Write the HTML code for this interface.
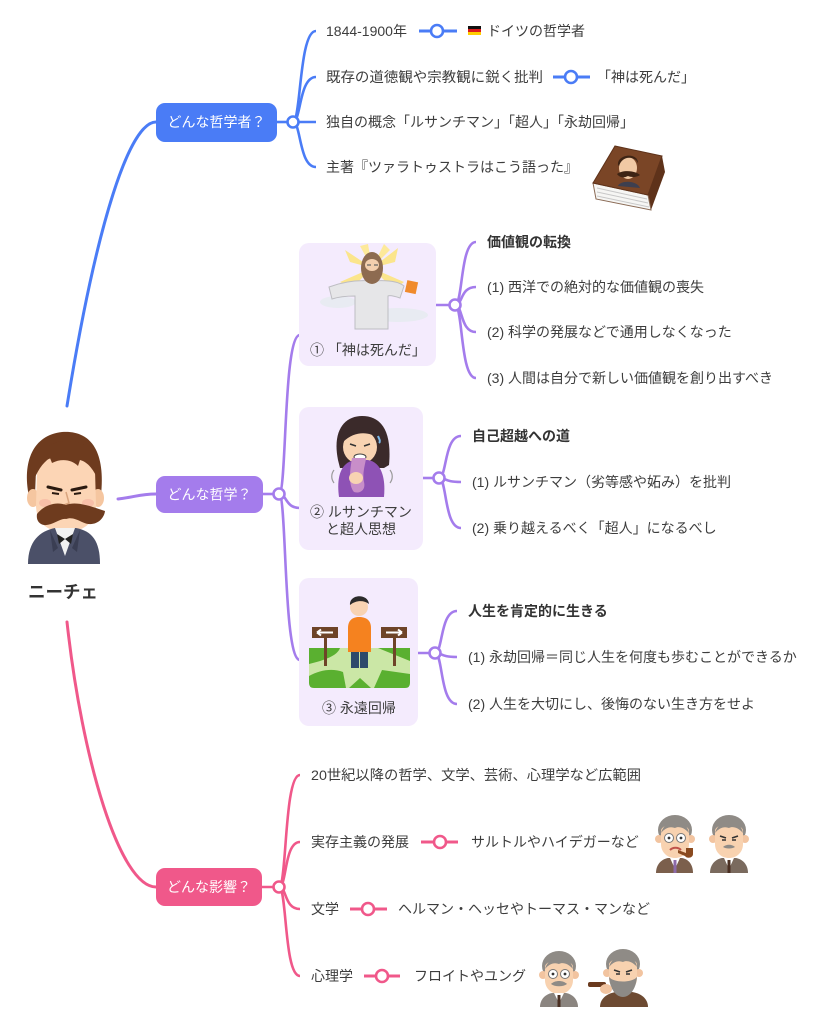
<!DOCTYPE html>
<html><head><meta charset="utf-8"><style>
html,body{margin:0;padding:0;background:#fff;}
svg{display:block}
text{font-family:"Liberation Sans","Noto Sans CJK JP",sans-serif;font-size:14px;fill:#3d3d3d;dominant-baseline:central}
.w{fill:#fff}
.b{font-weight:bold;fill:#333}
</style></head><body>
<svg width="825" height="1023" viewBox="0 0 825 1023" xmlns="http://www.w3.org/2000/svg">
<!-- ===== main curves ===== -->
<g fill="none" stroke-width="3" stroke-linecap="round">
<path d="M67 406 C97 220 130 122 156 122" stroke="#4a7cf6"/>
<path d="M118 499 C135 497 140 494 156 494" stroke="#a47cec"/>
<path d="M67 622 C82 760 120 887 156 887" stroke="#f0588a"/>
</g>

<!-- ===== blue section ===== -->
<g fill="none" stroke="#4a7cf6" stroke-width="2.6">
<line x1="277" y1="122" x2="293" y2="122"/>
<path d="M293 122 C301 122 299 31 316 31"/>
<path d="M293 122 C301 122 299 77 316 77"/>
<path d="M293 122 L316 122"/>
<path d="M293 122 C301 122 299 167 316 167"/>
<line x1="419" y1="31" x2="457" y2="31" stroke-width="3"/>
<line x1="553" y1="77" x2="590" y2="77" stroke-width="3"/>
</g>
<rect x="156" y="103" width="121" height="39" rx="9" fill="#4a7cf6"/>
<text x="216.5" y="122" class="w" text-anchor="middle">どんな哲学者？</text>
<g fill="#fff" stroke="#4a7cf6" stroke-width="2.6">
<circle cx="293" cy="122" r="5.5"/>
<circle cx="437" cy="31" r="6"/>
<circle cx="571" cy="77" r="6"/>
</g>
<text x="326" y="31">1844-1900年</text>
<rect x="468" y="26" width="13" height="3" fill="#111"/>
<rect x="468" y="29" width="13" height="3" fill="#dd1c1c"/>
<rect x="468" y="32" width="13" height="3" fill="#ffce00"/>
<text x="487" y="31">ドイツの哲学者</text>
<text x="326" y="77" textLength="217" lengthAdjust="spacingAndGlyphs">既存の道徳観や宗教観に鋭く批判</text>
<text x="597" y="77">「神は死んだ」</text>
<text x="326" y="122">独自の概念「ルサンチマン」「超人」「永劫回帰」</text>
<text x="326" y="167">主著『ツァラトゥストラはこう語った』</text>

<!-- book -->
<g>
<polygon points="662,156 665,172 651,210 648,195" fill="#5e321a"/>
<polygon points="593,183 648,195 651,210 596,199" fill="#f6f6f4" stroke="#8a6a55" stroke-width="1"/>
<line x1="597" y1="188" x2="647" y2="199" stroke="#c8c8c8"/>
<line x1="597" y1="192" x2="648" y2="203" stroke="#c8c8c8"/>
<line x1="597" y1="196" x2="649" y2="207" stroke="#c8c8c8"/>
<polygon points="615,146 662,156 648,195 593,183" fill="#7a4526" stroke="#5e321a" stroke-width="1"/>
<ellipse cx="628" cy="168" rx="9" ry="11" fill="#f1c9a4"/>
<path d="M618 165 C617 154 638 152 638 163 L636 160 C630 156 622 157 619 166 Z" fill="#3e2414"/>
<path d="M617 174 C622 170 634 170 640 175 C636 178 630 177 628 176 C624 178 620 178 617 174 Z" fill="#3e2414"/>
<path d="M618 186 C620 180 637 180 640 188 Z" fill="#3d3f4f"/>
</g>

<!-- ===== Nietzsche ===== -->
<g>
<path d="M29 496 C22 462 33 435 62 432 C90 430 106 450 101 496 L95 496 L95 470 L36 470 L35 496 Z" fill="#6e3b1e"/>
<ellipse cx="33" cy="498" rx="6" ry="9" fill="#f5c6a0"/>
<ellipse cx="98" cy="498" rx="6" ry="9" fill="#f5c6a0"/>
<rect x="55" y="515" width="20" height="16" fill="#f5c6a0"/>
<path d="M37 470 C37 452 95 452 95 470 L96 505 C96 525 80 532 66 532 C50 532 36 525 36 505 Z" fill="#fcd5b5"/>
<path d="M33 482 C34 452 52 440 66 441 C86 440 99 452 99 482 C94 470 88 462 80 460 L78 466 C72 460 62 458 52 463 L50 458 C42 463 37 472 33 482 Z" fill="#6e3b1e"/>
<ellipse cx="45" cy="503" rx="6" ry="4" fill="#f6b5a3" opacity=".7"/>
<ellipse cx="88" cy="503" rx="6" ry="4" fill="#f6b5a3" opacity=".7"/>
<path d="M48 487 L61 490" stroke="#2a1a10" stroke-width="3" stroke-linecap="round"/>
<path d="M72 490 L86 487" stroke="#2a1a10" stroke-width="3" stroke-linecap="round"/>
<path d="M52 493 L59 494 M74 494 L81 493" stroke="#2a1a10" stroke-width="2"/>
<path d="M66 492 L69 503 L64 505" stroke="#d9a57f" stroke-width="1.5" fill="none"/>
<path d="M37 514 C44 505 56 501 66 505 C76 501 90 506 105 511 C104 520 94 528 82 522 C76 519 71 517 66 519 C60 518 52 526 44 525 C39 524 36 520 37 514 Z" fill="#6e3b1e"/>
<path d="M28 564 C28 541 40 531 55 528 L76 528 C92 531 100 541 100 564 Z" fill="#4b5068"/>
<path d="M55 528 L65 556 L75 528 Z" fill="#f2f2f2"/>
<path d="M57 534 L65 539 L73 534 L71 544 L65 539 L59 544 Z" fill="#222"/>
<path d="M50 530 L58 548 L53 552 Z M80 530 L72 548 L77 552 Z" fill="#3a3e53"/>
</g>
<text x="63" y="592" text-anchor="middle" class="b" style="font-size:17.5px">ニーチェ</text>

<!-- ===== purple section ===== -->
<g fill="none" stroke="#a47cec" stroke-width="2.6">
<line x1="263" y1="494" x2="279" y2="494"/>
<path d="M279 494 C287 494 283 335 300 335"/>
<path d="M279 494 C287 494 285 508 300 508"/>
<path d="M279 494 C287 494 283 660 300 660"/>
<line x1="436" y1="305" x2="455" y2="305"/>
<path d="M455 305 C463 305 460 242 476 242"/>
<path d="M455 305 C463 305 460 287 476 287"/>
<path d="M455 305 C463 305 460 332 476 332"/>
<path d="M455 305 C463 305 460 378 476 378"/>
<line x1="423" y1="478" x2="439" y2="478"/>
<path d="M439 478 C447 478 444 436 461 436"/>
<path d="M439 478 C447 478 444 482 461 482"/>
<path d="M439 478 C447 478 444 528 461 528"/>
<line x1="418" y1="653" x2="435" y2="653"/>
<path d="M435 653 C443 653 440 611 457 611"/>
<path d="M435 653 C443 653 440 657 457 657"/>
<path d="M435 653 C443 653 440 704 457 704"/>
</g>
<rect x="156" y="476" width="107" height="37" rx="9" fill="#a47cec"/>
<text x="209.5" y="494.5" class="w" text-anchor="middle">どんな哲学？</text>

<!-- boxes -->
<rect x="299" y="243" width="137" height="123" rx="10" fill="#f4ebfd"/>
<rect x="299" y="407" width="124" height="143" rx="10" fill="#f4ebfd"/>
<rect x="299" y="578" width="119" height="148" rx="10" fill="#f4ebfd"/>

<g fill="#fff" stroke="#a47cec" stroke-width="2.6">
<circle cx="279" cy="494" r="5.5"/>
<circle cx="455" cy="305" r="5.5"/>
<circle cx="439" cy="478" r="5.5"/>
<circle cx="435" cy="653" r="5.5"/>
</g>

<!-- box1 illustration: god -->
<g>
<polygon points="372,268 345,250 350,262" fill="#fbe58c"/>
<polygon points="372,268 398,248 395,262" fill="#fbe58c"/>
<polygon points="372,268 340,282 352,288" fill="#fbe58c"/>
<polygon points="372,268 404,282 394,290" fill="#fbe58c"/>
<polygon points="372,268 360,246 368,244" fill="#fde99a"/>
<polygon points="372,268 384,244 390,250" fill="#fde99a"/>
<ellipse cx="338" cy="302" rx="18" ry="6" fill="#e8ebf2"/>
<ellipse cx="398" cy="315" rx="30" ry="7" fill="#e8ebf2"/>
<path d="M329 287 C345 281 360 280 372 281 C385 280 398 281 404 286 L400 298 C394 296 390 295 388 296 L388 329 L355 329 L355 296 C346 296 338 297 332 299 Z" fill="#e6e6e8" stroke="#bdbdc2" stroke-width="1"/>
<ellipse cx="372" cy="268" rx="11" ry="16" fill="#8d6b50"/>
<ellipse cx="372" cy="265" rx="7" ry="6" fill="#f3cfae"/>
<path d="M367 265 h4 M374 265 h4" stroke="#666" stroke-width="1.2"/>
<path d="M365 272 C368 284 376 284 379 272 Z" fill="#8d6b50"/>
<rect x="406" y="281" width="11" height="12" fill="#f08a2c" transform="rotate(12 411 287)"/>
</g>
<text x="368" y="350" text-anchor="middle">① 「神は死んだ」</text>

<!-- box2 illustration: woman -->
<g>
<path d="M338 460 C332 430 345 416 362 416 C382 416 392 432 389 465 L384 468 L340 468 Z" fill="#3b2a2a"/>
<ellipse cx="360" cy="447" rx="17" ry="17" fill="#f8d3b2"/>
<path d="M343 442 C346 425 372 422 378 438 C370 432 355 430 343 442 Z" fill="#3b2a2a"/>
<path d="M350 444 l6 2 M370 444 l-6 2" stroke="#333" stroke-width="1.5"/>
<ellipse cx="360" cy="457" rx="6" ry="3" fill="#fff" stroke="#444" stroke-width="1"/>
<path d="M339 497 C336 475 342 462 355 460 L368 460 C380 462 386 475 384 497 Z" fill="#8e52b5"/>
<path d="M352 458 C350 470 348 485 354 492 C360 494 366 490 364 482 C362 472 366 462 366 458 Z" fill="#c88ec9"/>
<ellipse cx="356" cy="478" rx="7" ry="6" fill="#f8d3b2"/>
<path d="M334 470 c-3 4 -3 9 0 13 M390 470 c3 4 3 9 0 13" stroke="#999" stroke-width="1.2" fill="none"/>
<path d="M378 436 c1 3 3 5 1 7" stroke="#7ab8e8" stroke-width="2" fill="none"/>
</g>
<text x="361" y="512" text-anchor="middle">② ルサンチマン</text>
<text x="361" y="529" text-anchor="middle">と超人思想</text>

<!-- box3 illustration: crossroads -->
<g>
<path d="M309 648 H410 V683 Q410 688 405 688 H314 Q309 688 309 683 Z" fill="#5ab030"/>
<path d="M340 648 L378 648 L410 661 L410 674 L382 670 L374 688 L346 688 L343 672 C332 668 320 670 309 676 L309 664 C325 660 337 656 340 648 Z" fill="#cbe7a6"/>
<path d="M349 688 L360 678 L371 688 Z" fill="#5ab030"/>
<rect x="324" y="636" width="3" height="30" fill="#6e4428"/>
<rect x="393" y="636" width="3" height="30" fill="#6e4428"/>
<rect x="312" y="627" width="26" height="11" fill="#6e4428"/>
<rect x="381" y="627" width="26" height="11" fill="#6e4428"/>
<path d="M317 632.5 h16 M317 632.5 l4 -3 M317 632.5 l4 3" stroke="#fff" stroke-width="2" fill="none"/>
<path d="M386 632.5 h16 M402 632.5 l-4 -3 M402 632.5 l-4 3" stroke="#fff" stroke-width="2" fill="none"/>
<rect x="351" y="648" width="8" height="20" fill="#2e4a6b"/>
<rect x="360" y="648" width="8" height="20" fill="#2e4a6b"/>
<path d="M348 652 L348 628 C348 620 353 617 359 617 C366 617 371 620 371 628 L371 652 Z" fill="#f5821f"/>
<circle cx="359" cy="607" r="9" fill="#f8d3b2"/>
<path d="M350 605 C349 594 368 593 369 604 C364 600 356 600 350 605 Z" fill="#2b2b2b"/>
</g>
<text x="359" y="708" text-anchor="middle">③ 永遠回帰</text>

<!-- middle texts -->
<text x="487" y="242" class="b">価値観の転換</text>
<text x="487" y="287">(1) 西洋での絶対的な価値観の喪失</text>
<text x="487" y="332">(2) 科学の発展などで通用しなくなった</text>
<text x="487" y="378">(3) 人間は自分で新しい価値観を創り出すべき</text>
<text x="472" y="436" class="b">自己超越への道</text>
<text x="472" y="482">(1) ルサンチマン（劣等感や妬み）を批判</text>
<text x="472" y="528">(2) 乗り越えるべく「超人」になるべし</text>
<text x="468" y="611" class="b">人生を肯定的に生きる</text>
<text x="468" y="657">(1) 永劫回帰＝同じ人生を何度も歩むことができるか</text>
<text x="468" y="704">(2) 人生を大切にし、後悔のない生き方をせよ</text>

<!-- ===== pink section ===== -->
<g fill="none" stroke="#f0588a" stroke-width="2.6">
<line x1="262" y1="887" x2="279" y2="887"/>
<path d="M279 887 C287 887 284 775 300 775"/>
<path d="M279 887 C287 887 284 842 300 842"/>
<path d="M279 887 C287 887 284 909 300 909"/>
<path d="M279 887 C287 887 284 976 300 976"/>
<line x1="421" y1="842" x2="458" y2="842" stroke-width="3"/>
<line x1="350" y1="909" x2="387" y2="909" stroke-width="3"/>
<line x1="364" y1="976" x2="400" y2="976" stroke-width="3"/>
</g>
<rect x="156" y="868" width="106" height="38" rx="9" fill="#f0588a"/>
<text x="209" y="887" class="w" text-anchor="middle">どんな影響？</text>
<g fill="#fff" stroke="#f0588a" stroke-width="2.6">
<circle cx="279" cy="887" r="5.5"/>
<circle cx="440" cy="842" r="6"/>
<circle cx="368" cy="909" r="6"/>
<circle cx="382" cy="976" r="6"/>
</g>
<text x="311" y="775" textLength="330" lengthAdjust="spacingAndGlyphs">20世紀以降の哲学、文学、芸術、心理学など広範囲</text>
<text x="311" y="842">実存主義の発展</text>
<text x="471" y="842">サルトルやハイデガーなど</text>
<text x="311" y="909">文学</text>
<text x="398" y="909">ヘルマン・ヘッセやトーマス・マンなど</text>
<text x="311" y="976">心理学</text>
<text x="414" y="976">フロイトやユング</text>

<!-- people -->
<defs>
<g id="man">
<ellipse cx="19" cy="17" rx="17" ry="15" fill="#8f8b86"/>
<circle cx="3" cy="26" r="4" fill="#f2c4a0"/>
<circle cx="35" cy="26" r="4" fill="#f2c4a0"/>
<path d="M5 18 C5 9 33 9 33 18 L33 31 C33 40 26 45 19 45 C12 45 5 40 5 31 Z" fill="#f8d2b0"/>
<path d="M5 20 C8 10 16 8 19 9 C26 8 31 11 33 20 C28 14 22 13 19 15 C14 13 9 15 5 20 Z" fill="#8f8b86"/>
</g>
</defs>
<!-- Sartre -->
<g transform="translate(656 813)">
<use href="#man"/>
<path d="M0 60 C0 51 6 46 12 45 L26 45 C32 46 37 51 37 60 Z" fill="#7b5f4c"/>
<path d="M14 45 L19 56 L24 45 Z" fill="#fff"/>
<rect x="17.5" y="47" width="3" height="13" fill="#8c6aa8"/>
<circle cx="13" cy="25" r="4.5" fill="#fff" stroke="#777" stroke-width="1"/>
<circle cx="25" cy="25" r="4.5" fill="#fff" stroke="#777" stroke-width="1"/>
<circle cx="13" cy="25" r="1.4" fill="#333"/><circle cx="25" cy="25" r="1.4" fill="#333"/>
<path d="M14 37 C17 34 22 34 25 37" stroke="#c0524a" stroke-width="2" fill="none"/>
<path d="M22 37 L30 40 L30 35 L37 35 L37 41 C37 45 31 46 29 43 L22 40 Z" fill="#8a4a1f"/>
</g>
<!-- Heidegger -->
<g transform="translate(710 813)">
<use href="#man"/>
<path d="M0 60 C0 51 6 46 12 45 L26 45 C32 46 38 51 38 60 Z" fill="#7a6a5e"/>
<path d="M14 45 L19 56 L24 45 Z" fill="#fff"/>
<rect x="17.5" y="47" width="3" height="13" fill="#4a2f22"/>
<path d="M10 23 l6 2 M28 23 l-6 2" stroke="#333" stroke-width="1.6"/>
<path d="M12 27 h4 M22 27 h4" stroke="#333" stroke-width="1.6"/>
<path d="M13 34 C16 31 22 31 25 34 C22 36 16 36 13 34 Z" fill="#8f8b86"/>
</g>
<!-- Freud -->
<g transform="translate(540 949)">
<use href="#man"/>
<path d="M0 58 C0 50 6 45 12 44 L26 44 C32 45 38 50 38 58 Z" fill="#8b8580"/>
<path d="M14 44 L19 54 L24 44 Z" fill="#fff"/>
<rect x="17.5" y="46" width="3" height="12" fill="#4a2f22"/>
<circle cx="13" cy="25" r="4.5" fill="#fff" stroke="#777" stroke-width="1"/>
<circle cx="25" cy="25" r="4.5" fill="#fff" stroke="#777" stroke-width="1"/>
<circle cx="13" cy="25" r="1.4" fill="#333"/><circle cx="25" cy="25" r="1.4" fill="#333"/>
<path d="M11 35 C15 31 23 31 27 35 C23 38 15 38 11 35 Z" fill="#8f8b86"/>
</g>
<!-- Jung -->
<g transform="translate(604 947)">
<use href="#man"/>
<path d="M-4 60 C-4 51 4 46 12 45 L28 45 C36 46 44 51 44 60 Z" fill="#6d4a32"/>
<path d="M5 30 C6 42 12 50 19 50 C26 50 32 42 33 30 C28 36 10 36 5 30 Z" fill="#8d8a86"/>
<path d="M10 23 l6 2 M28 23 l-6 2" stroke="#333" stroke-width="1.6"/>
<path d="M12 27 h4 M22 27 h4" stroke="#333" stroke-width="1.6"/>
<rect x="-16" y="35" width="18" height="5" rx="2" fill="#6a3a1e"/>
<ellipse cx="2" cy="42" rx="6" ry="5" fill="#f2c4a0"/>
</g>
</svg>
</body></html>
